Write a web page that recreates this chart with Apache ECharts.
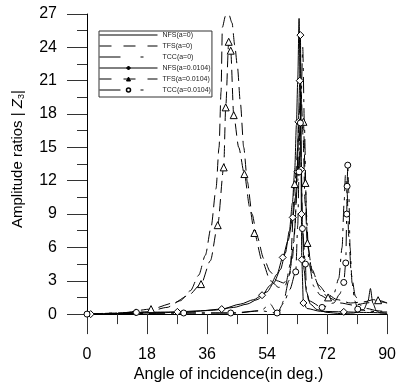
<!DOCTYPE html>
<html>
<head>
<meta charset="utf-8">
<script src="https://cdn.jsdelivr.net/npm/echarts@6/dist/echarts.min.js"></script>
<style>html,body{margin:0;padding:0;background:#fff}#c{width:399px;height:388px}</style>
</head>
<body>
<div id="c"></div>
<script>
// ---- data ----
const seriesNames = ['NFS(a=0)', 'TFS(a=0)', 'TCC(a=0)', 'NFS(a=0.0104)', 'TFS(a=0.0104)', 'TCC(a=0.0104)'];
const xTicks = [0, 18, 36, 54, 72, 90];
const yTicks = [0, 3, 6, 9, 12, 15, 18, 21, 24, 27];

const xNFS0 = [0, 10, 20, 30, 38, 44, 48, 51, 54, 56, 58, 59.5, 60.7, 61.6, 62.3, 62.8, 63.2, 63.6, 63.9, 64.2, 64.6, 65.1, 65.8, 67, 69, 72, 76, 80, 83, 84.3, 85, 85.7, 86.8, 88, 90];
const yNFS0 = [0, 0.05, 0.1, 0.2, 0.35, 0.6, 0.9, 1.3, 2.0, 2.8, 4.0, 5.5, 7.5, 10, 13, 17, 21, 26.6, 22, 14, 8, 4, 2, 0.9, 0.4, 0.15, 0.05, 0.1, 0.4, 1.2, 2.3, 1.0, 0.3, 0.1, 0.05];

const xTFS0 = [0, 10, 18, 24, 28, 31, 33.5, 35.5, 37.2, 38.7, 39.6, 40.2, 40.6, 41.5, 42.5, 43.5, 44.3, 45.1, 46, 47, 48.1, 49.5, 51, 53, 55, 57, 59, 60.5, 61.6, 62.4, 63, 63.6, 64.2, 64.8, 65.4, 66.2, 67.5, 69.5, 72, 75, 79, 83, 86, 88, 90];
const yTFS0 = [0, 0.05, 0.2, 0.6, 1.2, 2.1, 3.5, 5.3, 7.8, 11.3, 15, 20, 25.8, 26.8, 27, 26.2, 24.2, 22.3, 19, 15, 11.9, 9, 7, 5, 3.8, 3, 2.8, 3.4, 5, 8, 13, 18, 20, 16, 10, 6, 4, 2.6, 1.8, 1.3, 1, 1.1, 1.3, 1.1, 1];

const xTCC0 = [0, 15, 30, 45, 52, 55, 56.5, 57.5, 59, 60.5, 62, 63.2, 64.1, 64.7, 65.2, 65.8, 66.6, 68, 70, 72, 74, 75.5, 76.5, 77.1, 77.5, 78, 78.5, 79.3, 80.5, 82, 84, 87, 90];
const yTCC0 = [0, 0.05, 0.1, 0.1, 0.3, 0.9, 0.3, 0.1, 1.2, 3, 6.5, 12, 18, 24, 17, 9, 4.5, 2.5, 1.7, 1.4, 1.8, 3.2, 6, 10, 12.5, 11, 7, 3.5, 1.6, 0.8, 0.5, 0.3, 0.2];

const xNFS1 = [1.1, 8, 14.7, 22, 27.1, 34, 40.4, 46, 50, 52.5, 55, 57, 58.7, 60.3, 61.7, 62.5, 63.1, 63.4, 63.8, 64, 64.15, 64.2, 64.3, 64.4, 64.9, 66, 70, 77, 83, 90];
const yNFS1 = [0, 0.05, 0.15, 0.18, 0.2, 0.3, 0.45, 0.9, 1.3, 1.7, 2.6, 3.6, 5.1, 6.6, 8.7, 10.5, 12.8, 17.3, 21, 25.1, 21, 13, 9.0, 4.9, 1.0, 0.5, 0.25, 0.2, 0.15, 0.1];
const mNFS1 = [1, 0, 1, 0, 1, 0, 1, 0, 0, 1, 0, 0, 1, 0, 1, 0, 1, 1, 1, 1, 0, 1, 1, 1, 1, 0, 0, 1, 0, 0];

const xTFS1 = [0, 10, 19.2, 26, 30.5, 34.2, 37, 39.2, 41, 41.6, 42.5, 43.1, 44, 45.5, 47.2, 48.8, 50.2, 52.5, 55, 57.5, 59.5, 61, 62.3, 63.5, 64.9, 65.5, 66.1, 67.5, 70, 72.3, 76, 80, 84, 87.3, 90];
const yTFS1 = [0, 0.1, 0.45, 1.0, 1.7, 2.7, 4.8, 8, 13.2, 18.6, 24.5, 23.7, 17.9, 15, 12.6, 9.6, 7.3, 4.8, 3, 2.4, 2.6, 4.5, 11.7, 16, 17.3, 11.8, 6.4, 3.8, 2.2, 1.5, 1.0, 0.8, 1.0, 1.25, 1.0];
const mTFS1 = [0, 0, 1, 0, 0, 1, 0, 1, 1, 1, 1, 1, 1, 0, 1, 0, 1, 0, 0, 0, 0, 0, 1, 0, 1, 1, 1, 0, 0, 1, 0, 0, 0, 1, 0];

const xTCC1 = [0, 14.8, 29, 43.1, 52, 57, 59, 60.8, 62.6, 63.2, 63.6, 64, 64.3, 64.6, 65.5, 65.8, 66.5, 70.5, 74, 75.8, 77, 77.6, 77.9, 78, 78.2, 78.5, 78.9, 79.5, 80.3, 81.2, 84, 87, 90];
const yTCC1 = [0, 0.15, 0.1, 0.1, 0.3, 0.1, 1, 2.2, 3.8, 8, 12.8, 17.2, 13, 7.7, 4.5, 2.2, 1.2, 0.6, 1.0, 1.8, 2.85, 4.6, 9.0, 11.5, 13.4, 11, 6, 2.8, 1.2, 0.45, 0.3, 0.2, 0.2];
const mTCC1 = [1, 1, 1, 1, 0, 1, 0, 0, 1, 0, 1, 1, 0, 1, 1, 0, 0, 1, 0, 0, 1, 1, 1, 1, 1, 0, 0, 0, 0, 1, 0, 0, 0];

// ---- build ----
const FONT = 'Liberation Sans, Arial, Helvetica, sans-serif';
const DASH_TFS = [12, 6];
const DASH_TCC = [16, 6, 3, 6];

function plain(xs, ys) { return xs.map((x, i) => [x, ys[i]]); }
function marked(xs, ys, ms, sym) {
  return xs.map((x, i) => ({ value: [x, ys[i]], symbol: ms[i] ? sym : 'none' }));
}
function lineSeries(name, data, dash, sym, size) {
  return {
    name: name, type: 'line', data: data,
    symbol: sym || 'none', symbolSize: size || 6, showSymbol: true,
    smooth: 0.25, smoothMonotone: 'x',
    lineStyle: { color: '#000', width: 1, type: dash || 'solid' },
    itemStyle: { color: '#fff', borderColor: '#000', borderWidth: 1 },
    emphasis: { disabled: true }, silent: true, z: 3
  };
}

const series = [
  lineSeries(seriesNames[0], plain(xNFS0, yNFS0), 'solid'),
  lineSeries(seriesNames[1], plain(xTFS0, yTFS0), DASH_TFS),
  lineSeries(seriesNames[2], plain(xTCC0, yTCC0), DASH_TCC),
  lineSeries(seriesNames[3], marked(xNFS1, yNFS1, mNFS1, 'diamond'), 'solid', 'diamond', 7),
  lineSeries(seriesNames[4], marked(xTFS1, yTFS1, mTFS1, 'triangle'), DASH_TFS, 'triangle', 7),
  lineSeries(seriesNames[5], marked(xTCC1, yTCC1, mTCC1, 'circle'), DASH_TCC, 'circle', 6)
];

const hidden = { color: 'rgba(0,0,0,0)', borderColor: 'rgba(0,0,0,0)', borderWidth: 0 };
const filled = { color: '#000', borderColor: '#000', borderWidth: 1 };
const hollow = { color: '#fff', borderColor: '#000', borderWidth: 1.5 };
const legendDash = [[0], [12, 12], [21, 20, 3, 20], [0], [12, 12], [21, 20, 3, 20]];
const legendData = seriesNames.map((n, i) => ({
  name: n,
  itemStyle: i < 3 ? hidden : (i === 5 ? hollow : filled),
  lineStyle: { color: '#000', width: 1, type: (i === 0 || i === 3) ? 'solid' : legendDash[i] }
}));

const chart = echarts.init(document.getElementById('c'), null, { renderer: 'canvas' });
chart.setOption({
  animation: false,
  backgroundColor: '#fff',
  grid: { left: 87, right: 7, top: 14, bottom: 71, containLabel: false },
  legend: {
    data: legendData, orient: 'vertical', left: 99, top: 31,
    itemWidth: 58, itemHeight: 5, itemGap: 3, padding: [0, 1, 3, 0],
    borderColor: '#333', borderWidth: 1, backgroundColor: '#fff',
    textStyle: { fontSize: 7, fontFamily: FONT, color: '#222', lineHeight: 8 },
    selectedMode: false
  },
  xAxis: {
    type: 'value', min: xTicks[0], max: xTicks[xTicks.length - 1], interval: 18,
    name: 'Angle of incidence(in deg.)', nameLocation: 'middle', nameGap: 52,
    nameTextStyle: { fontSize: 16, fontFamily: FONT, color: '#000', padding: [0, 17, 0, 0] },
    axisLine: { show: true, onZero: false, lineStyle: { color: '#000', width: 1 } },
    axisTick: { show: true, inside: false, length: 20, lineStyle: { color: '#333', width: 1 } },
    minorTick: { show: true, splitNumber: 2, length: 10, lineStyle: { color: '#333', width: 1 } },
    axisLabel: { fontSize: 16, fontFamily: FONT, color: '#000', margin: 32,
      customValues: xTicks, formatter: v => String(v) },
    splitLine: { show: false }
  },
  yAxis: {
    type: 'value', min: yTicks[0], max: yTicks[yTicks.length - 1], interval: 3,
    name: 'Amplitude ratios | {z|Z}{s|3}|', nameLocation: 'middle', nameGap: 61, nameRotate: 90,
    nameTextStyle: { fontSize: 15, fontFamily: FONT, color: '#000', padding: [0, 0, 0, 10],
      rich: { z: { fontSize: 15, fontStyle: 'italic', fontFamily: FONT, color: '#000' },
              s: { fontSize: 9, fontFamily: FONT, color: '#000', verticalAlign: 'bottom', padding: [7, 0, 0, 0] } } },
    axisLine: { show: true, lineStyle: { color: '#000', width: 1 } },
    axisTick: { show: true, inside: false, length: 20, lineStyle: { color: '#333', width: 1 } },
    minorTick: { show: true, splitNumber: 2, length: 10, lineStyle: { color: '#333', width: 1 } },
    axisLabel: { fontSize: 16, fontFamily: FONT, color: '#000', margin: 30,
      customValues: yTicks, formatter: v => String(v) },
    splitLine: { show: false }
  },
  series: series
});
</script>
</body>
</html>
